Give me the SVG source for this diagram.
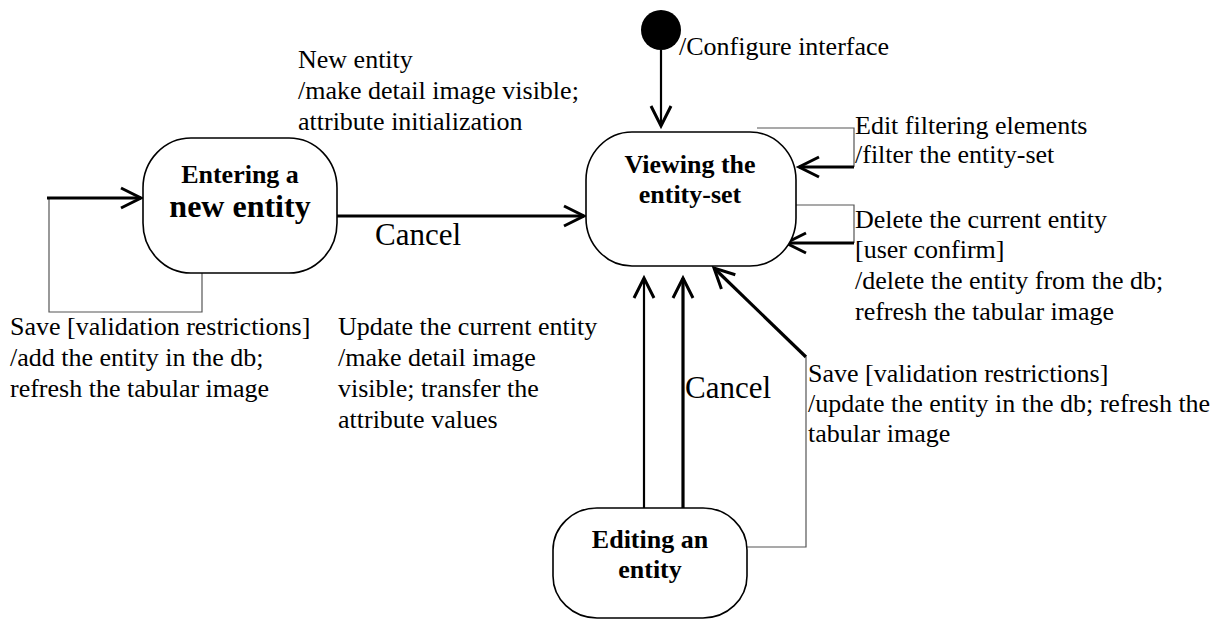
<svg xmlns="http://www.w3.org/2000/svg" width="1230" height="620" viewBox="0 0 1230 620">
<style>
.t{font-family:"Liberation Serif","Times New Roman",serif;font-size:26px;fill:#000}
.c{font-family:"Liberation Serif","Times New Roman",serif;font-size:31px;fill:#000}
.b{font-family:"Liberation Serif","Times New Roman",serif;font-size:26px;font-weight:bold;fill:#000;text-anchor:middle}
.node{fill:#fff;stroke:#000;stroke-width:1.6}
.thin{fill:none;stroke:#555;stroke-width:1.2}
.thick{fill:none;stroke:#000;stroke-width:3.2}
.med{fill:none;stroke:#000;stroke-width:2.2}
</style>
<defs>
<marker id="arr" viewBox="-24 -13 28 26" refX="0" refY="0" markerWidth="28" markerHeight="26" markerUnits="userSpaceOnUse" orient="auto" overflow="visible">
<path d="M-20,-10 L0,0 L-20,10" fill="none" stroke="#000" stroke-width="3"/>
</marker>
</defs>
<rect width="1230" height="620" fill="#fff"/>
<g id="connectors">
<path class="thin" d="M202,273 V312 H49 V198"/>
<path class="thick" d="M47,198 H141" marker-end="url(#arr)"/>
<path class="thick" d="M337,216 H584" marker-end="url(#arr)"/>
<path class="med" d="M661,50 V126" marker-end="url(#arr)"/>
<path class="thin" d="M757,128 H854 V167"/>
<path class="thick" d="M854,167 H799" marker-end="url(#arr)"/>
<path class="thin" d="M796,205 H854 V243"/>
<path class="thick" d="M854,243 H786" marker-end="url(#arr)"/>
<path class="thick" d="M806,357 L714,268" marker-end="url(#arr)"/>
<path class="thin" d="M806,357 V547 H747"/>
<path class="med" d="M644,508 V278" marker-end="url(#arr)"/>
<path class="thick" d="M683,508 V278" marker-end="url(#arr)"/>
</g>
<g id="initial">
<circle cx="661" cy="30" r="20" fill="#000"/>
</g>
<g id="entering">
<rect class="node" x="143" y="138" width="194" height="135" rx="48" ry="50"/>
<text class="b" x="240" y="183">Entering a</text>
<text class="b" x="240" y="217" style="font-size:32px">new entity</text>
</g>
<g id="viewing">
<rect class="node" x="586" y="132" width="210" height="134" rx="46" ry="48"/>
<text class="b" x="690" y="173">Viewing the</text>
<text class="b" x="690" y="203">entity-set</text>
</g>
<g id="editing">
<rect class="node" x="553" y="508" width="194" height="110" rx="44" ry="42"/>
<text class="b" x="650" y="548">Editing an</text>
<text class="b" x="650" y="578">entity</text>
</g>
<g id="labels">
<text class="t" x="298" y="68">New entity</text>
<text class="t" x="298" y="99">/make detail image visible;</text>
<text class="t" x="298" y="130">attribute initialization</text>
<text class="t" x="679" y="55">/Configure interface</text>
<text class="c" x="375" y="245">Cancel</text>
<text class="c" x="685" y="398">Cancel</text>
<text class="t" x="855" y="134">Edit filtering elements</text>
<text class="t" x="855" y="163">/filter the entity-set</text>
<text class="t" x="855" y="228">Delete the current entity</text>
<text class="t" x="855" y="258">[user confirm]</text>
<text class="t" x="855" y="289">/delete the entity from the db;</text>
<text class="t" x="855" y="320">refresh the tabular image</text>
<text class="t" x="808" y="382">Save [validation restrictions]</text>
<text class="t" x="808" y="412">/update the entity in the db; refresh the</text>
<text class="t" x="808" y="442">tabular image</text>
<text class="t" x="10" y="335">Save [validation restrictions]</text>
<text class="t" x="10" y="366">/add the entity in the db;</text>
<text class="t" x="10" y="397">refresh the tabular image</text>
<text class="t" x="338" y="335">Update the current entity</text>
<text class="t" x="338" y="366">/make detail image</text>
<text class="t" x="338" y="397">visible; transfer the</text>
<text class="t" x="338" y="428">attribute values</text>
</g>
</svg>
